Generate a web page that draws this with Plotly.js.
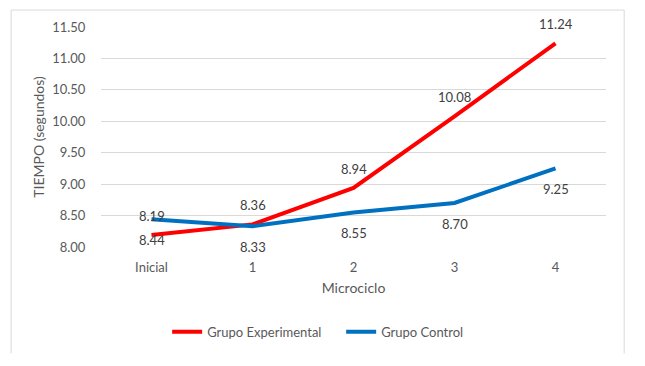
<!DOCTYPE html>
<html>
<head>
<meta charset="utf-8">
<script src="https://cdn.plot.ly/plotly-3.0.1.min.js"></script>
<style>html,body{margin:0;padding:0;background:#fff;}#chart{width:645px;height:366px;}</style>
</head>
<body>
<div id="chart"></div>
<script>
const categories = ["Inicial", "1", "2", "3", "4"];
const experimental = [8.19, 8.36, 8.94, 10.08, 11.24];
const control = [8.44, 8.33, 8.55, 8.70, 9.25];
const yTicks = [8.0, 8.5, 9.0, 9.5, 10.0, 10.5, 11.0, 11.5];

const FONT = "Lato, 'Open Sans', sans-serif";
const TXT = "#595959";

const traces = [
  {x: categories, y: experimental, type: "scatter", mode: "lines", name: "Grupo Experimental",
   line: {color: "#FF0000", width: 4}},
  {x: categories, y: control, type: "scatter", mode: "lines", name: "Grupo Control",
   line: {color: "#0070C0", width: 4}}
];

const annotations = [];
categories.forEach((c, i) => {
  annotations.push({x: c, y: experimental[i], xref: "x", yref: "y", text: experimental[i].toFixed(2),
    showarrow: false, yshift: 19, font: {family: FONT, size: 13, color: "#404040"}});
  annotations.push({x: c, y: control[i], xref: "x", yref: "y", text: control[i].toFixed(2),
    showarrow: false, yshift: -21, font: {family: FONT, size: 13, color: "#404040"}});
});

const layout = {
  width: 645, height: 366,
  margin: {l: 101, r: 39, t: 27, b: 119},
  paper_bgcolor: "#fff", plot_bgcolor: "#fff",
  font: {family: FONT, size: 13, color: TXT},
  showlegend: true,
  legend: {orientation: "h", x: 0.131, xanchor: "left", y: -0.385, yanchor: "middle",
    font: {family: FONT, size: 13, color: TXT}, traceorder: "normal", itemwidth: 30, entrywidth: 129},
  xaxis: {type: "category", range: [-0.5, 4.5], showgrid: false, zeroline: false, showline: false,
    ticks: "outside", ticklen: 8, tickcolor: "rgba(0,0,0,0)",
    tickfont: {family: FONT, size: 13, color: TXT},
    title: {text: "Microciclo", font: {family: FONT, size: 14, color: TXT}, standoff: 9}},
  yaxis: {range: [8.0, 11.5], tickvals: yTicks, tickformat: ".2f", showgrid: true, gridcolor: "#D9D9D9",
    gridwidth: 1, zeroline: false, showline: false,
    ticks: "outside", ticklen: 12, tickcolor: "rgba(0,0,0,0)",
    tickfont: {family: FONT, size: 13, color: TXT},
    title: {text: "TIEMPO (segundos)", font: {family: FONT, size: 14, color: TXT}, standoff: 4}},
  annotations: annotations,
  shapes: [
    {type: "line", xref: "paper", yref: "paper", x0: -0.178, x1: -0.178, y0: 1.077, y1: -0.484, line: {color: "#D9D9D9", width: 1}},
    {type: "line", xref: "paper", yref: "paper", x0: -0.178, x1: 1.036, y0: 1.077, y1: 1.077, line: {color: "#D9D9D9", width: 1}},
    {type: "line", xref: "paper", yref: "paper", x0: 1.036, x1: 1.036, y0: 1.077, y1: -0.484, line: {color: "#D9D9D9", width: 1}}
  ]
};

Plotly.newPlot("chart", traces, layout, {displayModeBar: false, staticPlot: true});
</script>
</body>
</html>
